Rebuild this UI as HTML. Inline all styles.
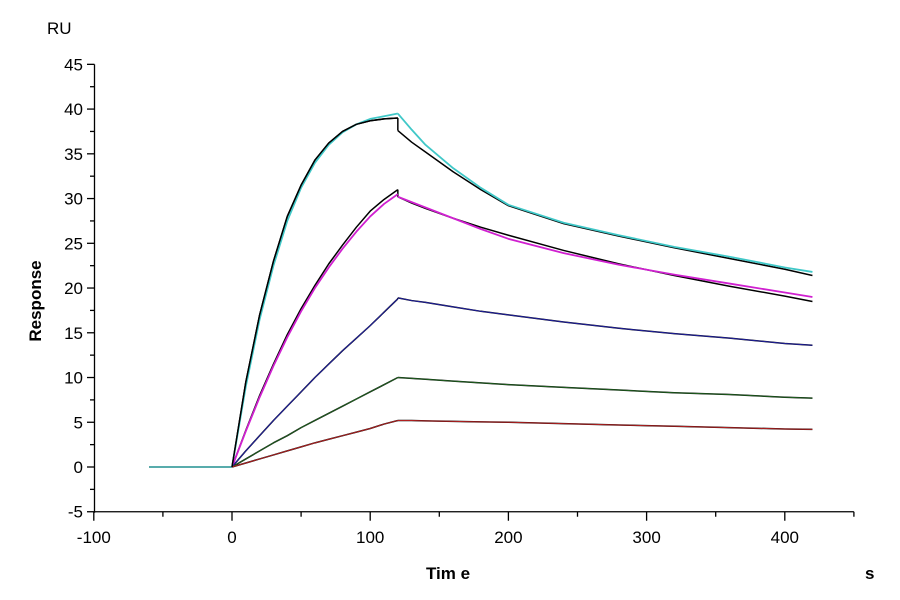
<!DOCTYPE html>
<html><head><meta charset="utf-8"><style>
body{margin:0;background:#fff}
svg{display:block;font-family:"Liberation Sans",Arial,sans-serif}
</style></head><body>
<svg id="chart" width="900" height="600">
<text x="47" y="34" font-size="17">RU</text>
<text transform="translate(41,301) rotate(-90)" text-anchor="middle" font-size="17" font-weight="bold">Response</text>
<text x="448" y="579" text-anchor="middle" font-size="17" font-weight="bold">Tim e</text>
<text x="865" y="579" font-size="17" font-weight="bold">s</text>
<g id="axes"></g><g id="series"></g>
</svg>
<script>
const xTicks=[-100,0,100,200,300,400];
const yTicks=[-5,0,5,10,15,20,25,30,35,40,45];
const baseT=[-60,-40,-20,0];
const assocT=[0,10,20,30,40,50,60,70,80,90,100,110,120];
const dissocT=[120,130,140,160,180,200,240,280,320,360,400,420];
const cyanA=[0,9,16.5,22.5,27.5,31.2,34,36,37.4,38.3,38.9,39.2,39.5];
const cyanD=[39.5,37.7,36.0,33.4,31.2,29.3,27.3,25.9,24.6,23.5,22.3,21.8];
const cyanFitA=[0,9.5,17,23,28,31.5,34.3,36.2,37.5,38.3,38.7,38.9,39.0];
const cyanFitD=[37.6,36.3,35.2,33,31,29.2,27.2,25.8,24.5,23.3,22.1,21.4];
const magA=[0,4,7.8,11.3,14.5,17.4,20,22.3,24.4,26.3,28,29.4,30.5];
const magD=[30.2,29.6,29,27.8,26.6,25.5,23.9,22.6,21.5,20.5,19.5,19.0];
const magFitA=[0,4.1,8,11.5,14.8,17.7,20.3,22.7,24.8,26.8,28.6,29.9,31.0];
const magFitD=[30.2,29.5,28.9,27.8,26.8,25.9,24.2,22.7,21.4,20.2,19.1,18.5];
const blueA=[0,1.8,3.5,5.2,6.8,8.4,10,11.5,13,14.4,15.8,17.3,18.8];
const blueD=[18.9,18.6,18.4,17.9,17.4,17.0,16.2,15.5,14.9,14.4,13.8,13.6];
const greenA=[0,0.9,1.8,2.7,3.5,4.4,5.2,6.0,6.8,7.6,8.4,9.2,10];
const greenD=[10,9.9,9.8,9.6,9.4,9.2,8.9,8.6,8.3,8.1,7.8,7.7];
const redA=[0,0.45,0.9,1.35,1.8,2.25,2.7,3.1,3.5,3.9,4.3,4.8,5.2];
const redD=[5.2,5.2,5.15,5.1,5.05,5.0,4.85,4.7,4.55,4.4,4.25,4.2];
const baseV=[0,0,0,0];

const NS="http://www.w3.org/2000/svg";
const X=t=>232+1.382*t;
const Y=v=>467-8.948*v;
const ax=document.getElementById('axes'), sg=document.getElementById('series');
function ln(p,x1,y1,x2,y2,name){const l=document.createElementNS(NS,'line');
l.setAttribute('x1',x1);l.setAttribute('y1',y1);l.setAttribute('x2',x2);l.setAttribute('y2',y2);
l.setAttribute('stroke','#000');l.setAttribute('stroke-width','1.3');


p.appendChild(l);}
ln(ax,94.5,Y(45),94.5,Y(-5)+1,'y-axis-line');
ln(ax,94.5,Y(-5),X(450),Y(-5),'x-axis-line');
yTicks.forEach(v=>{ln(ax,87,Y(v),94.5,Y(v),'y-tick');
 if(v<45) ln(ax,90,Y(v+2.5),94.5,Y(v+2.5),'y-minor-tick');
 const t=document.createElementNS(NS,'text');t.setAttribute('x',83);t.setAttribute('y',Y(v)+6);
 t.setAttribute('text-anchor','end');t.setAttribute('font-size','17');t.textContent=v;
 
 
 ax.appendChild(t);});
xTicks.forEach(v=>{ln(ax,X(v),Y(-5),X(v),Y(-5)+9,'x-tick');
 ln(ax,X(v+50),Y(-5),X(v+50),Y(-5)+5,'x-minor-tick');
 const t=document.createElementNS(NS,'text');t.setAttribute('x',X(v));t.setAttribute('y',543);
 t.setAttribute('text-anchor','middle');t.setAttribute('font-size','17');t.textContent=v;
 
 
 ax.appendChild(t);});
function path(ts,vs,color,w,name){const p=document.createElementNS(NS,'polyline');
 p.setAttribute('points',ts.map((t,i)=>X(t)+','+Y(vs[i])).join(' '));
 p.setAttribute('fill','none');p.setAttribute('stroke',color);p.setAttribute('stroke-width',w);
 p.setAttribute('stroke-linejoin','round');
 
 
 sg.appendChild(p);}
const fits=[[cyanFitA,cyanFitD],[magFitA,magFitD],[blueA,blueD],[greenA,greenD],[redA,redD]];
path(baseT,baseV,'#000',1.5,'fit-baseline');
fits.forEach((f,i)=>{
 path(assocT,f[0],'#000',1.5,'fit-association-'+i);
 path([120,120],[f[0][f[0].length-1],f[1][0]],'#000',1.5,'fit-junction-'+i);
 path(dissocT,f[1],'#000',1.5,'fit-dissociation-'+i);});
const sers=[[cyanA,cyanD,'#40c8c8','cyan'],[magA,magD,'#d020d0','magenta'],[blueA,blueD,'#2020a0','blue'],[greenA,greenD,'#206020','green'],[redA,redD,'#b02020','red']];
path(baseT,baseV,'#40c8c8',1.2,'baseline');
sers.forEach((s,i)=>{if(i<2){path(assocT,s[0],s[2],1.8,s[3]+'-association');path(dissocT,s[1],s[2],1.8,s[3]+'-dissociation');}
 else{path(assocT,s[0],s[2],1.0,s[3]+'-association');path(dissocT,s[1],s[2],1.0,s[3]+'-dissociation');}});
// redraw cyan fit association on top (black visible over cyan near rise)
path(assocT,cyanFitA,'#000',1.5,'fit-association-top');
</script>
</body></html>
